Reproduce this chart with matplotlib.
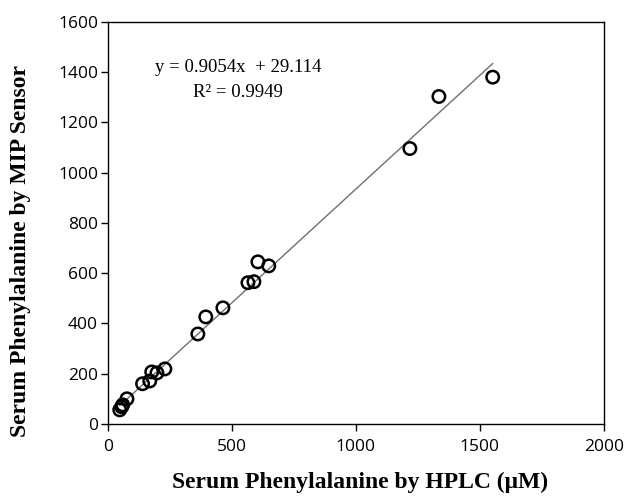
import numpy as np
import matplotlib.pyplot as plt

# Datos (HPLC vs sensor MIP, en uM)
hplc = [48, 56, 60, 77, 140, 169, 177, 198, 230, 363, 395, 464,
        565, 589, 605, 649, 1218, 1335, 1552]
mip = [56, 68, 76, 100, 160, 171, 207, 203, 219, 358, 426, 462,
       562, 566, 645, 629, 1096, 1303, 1380]

pendiente = 0.9054
intercepto = 29.114
r2 = 0.9949

x_ticks = [0, 500, 1000, 1500, 2000]
y_ticks = [0, 200, 400, 600, 800, 1000, 1200, 1400, 1600]

fig = plt.figure(figsize=(6.27, 4.97), dpi=100)
ax = fig.add_axes([0.172, 0.147, 0.791, 0.809])

# Linea de tendencia sobre el rango de datos
xs = np.array([min(hplc), max(hplc)])
ax.plot(xs, pendiente * xs + intercepto, color='#707070', linewidth=1.0, zorder=1)

ax.scatter(hplc, mip, s=80, facecolors='none', edgecolors='black', linewidths=1.8, zorder=2)

ax.text(525, 1418, f"y = {pendiente}x  + {intercepto}", ha='center', va='center',
        fontsize=13.5, family='Liberation Serif')
ax.text(525, 1319, f"R² = {r2}", ha='center', va='center',
        fontsize=13.5, family='Liberation Serif')

ax.set_xlim(0, 2000)
ax.set_ylim(0, 1600)
ax.set_xticks(x_ticks)
ax.set_yticks(y_ticks)
ax.tick_params(axis='both', labelsize=12.5, direction='out', length=5, width=1,
               top=False, right=False)
ax.tick_params(axis='y', pad=2)
ax.tick_params(axis='x', pad=6)
for lab in ax.get_xticklabels() + ax.get_yticklabels():
    lab.set_family('Open Sans')

for s in ax.spines.values():
    s.set_linewidth(1.0)
    s.set_color('black')

ax.set_xlabel("Serum Phenylalanine by HPLC (\u03bcM)", fontsize=17, fontweight='bold',
              family='Liberation Serif')
ax.set_ylabel("Serum Phenylalanine by MIP Sensor", fontsize=17, fontweight='bold',
              family='Liberation Serif')
ax.xaxis.set_label_coords(0.508, -0.12)
ax.yaxis.set_label_coords(-0.155, 0.43)

fig.savefig('out.png', dpi=100)
